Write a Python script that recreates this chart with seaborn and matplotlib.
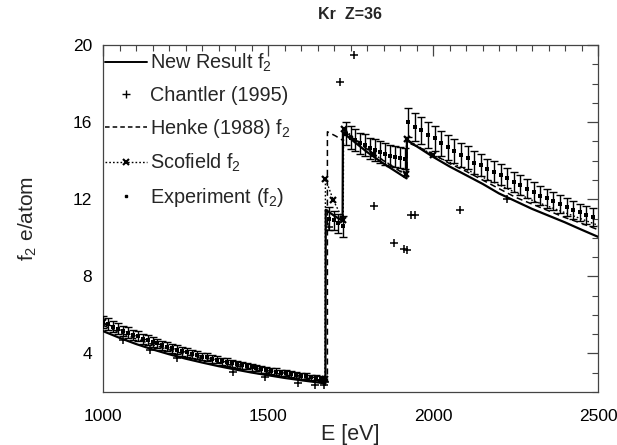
import numpy as np
import pandas as pd
import matplotlib
matplotlib.use("Agg")
import matplotlib.pyplot as plt
import seaborn as sns
from matplotlib.ticker import MultipleLocator
from matplotlib.lines import Line2D

# ---------------- data ----------------
# New Result f2 (solid line)
new_E = [1000, 1050, 1100, 1150, 1200, 1250, 1300, 1350, 1400, 1450, 1500, 1550, 1600, 1650, 1674,
         1675, 1700, 1726,
         1727, 1760, 1800, 1850, 1900, 1920,
         1921, 1950, 2000, 2050, 2100, 2150, 2200, 2250, 2300, 2350, 2400, 2450, 2500]
new_f = [5.16, 4.81, 4.49, 4.21, 3.96, 3.73, 3.53, 3.34, 3.17, 3.01, 2.87, 2.73, 2.61, 2.50, 2.44,
         11.45, 11.15, 10.87,
         15.45, 15.0, 14.45, 13.85, 13.3, 13.08,
         15.06, 14.75, 14.2, 13.7, 13.25, 12.8, 12.3, 11.9, 11.5, 11.15, 10.8, 10.42, 10.05]

# Chantler (1995) (+ markers)
chantler_E = [1062, 1142, 1225, 1395, 1491, 1592, 1642, 1670, 1672, 1686, 1718, 1761, 1822,
              1883, 1913, 1920, 1932, 1946, 2082, 2224]
chantler_f = [4.71, 4.16, 3.78, 3.03, 2.77, 2.48, 2.34, 2.34, 2.5, 10.56, 18.06, 19.48, 11.64,
              9.73, 9.4, 9.35, 11.17, 11.17, 11.46, 12.0]

# Henke (1988) f2 (dashed)
henke_E = [1000, 1050, 1100, 1150, 1200, 1250, 1300, 1350, 1400, 1450, 1500, 1550, 1600, 1650, 1680,
           1680, 1705, 1727,
           1727, 1760, 1800, 1850, 1900, 1921,
           1921, 1950, 2000, 2050, 2100, 2150, 2200, 2250, 2300, 2350, 2400, 2450, 2500]
henke_f = [5.46, 5.09, 4.76, 4.46, 4.19, 3.95, 3.73, 3.53, 3.35, 3.19, 3.03, 2.89, 2.76, 2.64, 2.58,
           15.5, 15.28, 15.05,
           15.6, 15.15, 14.6, 14.0, 13.45, 13.22,
           14.95, 14.75, 14.35, 13.85, 13.45, 13.0, 12.55, 12.1, 11.75, 11.4, 11.05, 10.75, 10.42]

# Scofield f2 (dotted with x markers)
scof_E = [1000, 1050, 1100, 1150, 1200, 1250, 1300, 1350, 1400, 1450, 1500, 1550, 1600, 1650, 1673,
          1674, 1698, 1728,
          1729, 1760, 1817, 1870, 1918,
          1920, 2000, 2100, 2200, 2300, 2400, 2500]
scof_f = [5.62, 5.24, 4.90, 4.59, 4.31, 4.07, 3.84, 3.64, 3.45, 3.28, 3.12, 2.98, 2.84, 2.73, 2.68,
          13.07, 11.95, 10.91,
          15.64, 15.2, 14.37, 13.8, 13.3,
          15.1, 14.29, 13.55, 12.75, 11.95, 11.3, 10.65]
scof_marked = [1000, 1673, 1674, 1698, 1728, 1729, 1817, 1918, 1920, 2000]

# Experiment (f2) with error bars
exp_E = [1000, 1015, 1030, 1045, 1060, 1075, 1090, 1105, 1120, 1135, 1150, 1165, 1180, 1195, 1210,
         1225, 1240, 1255, 1270, 1285, 1300, 1315, 1330, 1345, 1360, 1375, 1390, 1405, 1420, 1435,
         1450, 1465, 1480, 1495, 1510, 1525, 1540, 1555, 1570, 1585, 1600, 1615, 1630, 1645, 1660,
         1685, 1700, 1713, 1726,
         1735, 1750, 1765, 1780, 1795, 1810, 1825, 1840, 1855, 1870, 1885, 1900, 1915,
         1925, 1945, 1965, 1985, 2005, 2025, 2045, 2065, 2085, 2105, 2125, 2145, 2165, 2185, 2205,
         2225, 2245, 2265, 2285, 2305, 2325, 2345, 2365, 2385, 2405, 2425, 2445, 2465, 2485]
exp_f = [5.63, 5.52, 5.38, 5.29, 5.16, 5.08, 4.96, 4.88, 4.77, 4.70, 4.59, 4.52, 4.42, 4.36, 4.26,
         4.20, 4.11, 4.06, 3.97, 3.92, 3.84, 3.80, 3.71, 3.67, 3.59, 3.56, 3.48, 3.45, 3.38, 3.34,
         3.28, 3.25, 3.18, 3.15, 3.09, 3.06, 3.00, 2.98, 2.92, 2.90, 2.84, 2.82, 2.76, 2.75, 2.69,
         11.0, 10.9, 10.75, 10.6,
         15.4, 15.2, 15.05, 14.9, 14.8, 14.65, 14.55, 14.45, 14.35, 14.25, 14.2, 14.15, 14.1,
         16.0, 15.75, 15.58, 15.35, 15.15, 14.9, 14.7, 14.5, 14.3, 14.15, 13.9, 13.75, 13.55, 13.42,
         13.28, 13.1, 12.9, 12.75, 12.55, 12.38, 12.18, 12.05, 11.9, 11.76, 11.6, 11.45, 11.32,
         11.18, 11.08]
exp_err = [0.30, 0.30, 0.29, 0.28, 0.28, 0.27, 0.27, 0.26, 0.26, 0.25, 0.25, 0.24, 0.24, 0.23, 0.23,
           0.22, 0.22, 0.22, 0.21, 0.21, 0.20, 0.20, 0.20, 0.19, 0.19, 0.19, 0.18, 0.18, 0.18, 0.17,
           0.17, 0.17, 0.17, 0.16, 0.16, 0.16, 0.16, 0.15, 0.15, 0.15, 0.15, 0.15, 0.14, 0.14, 0.14,
           0.6, 0.5, 0.5, 0.55,
           0.6, 0.58, 0.57, 0.56, 0.56, 0.55, 0.55, 0.55, 0.55, 0.55, 0.55, 0.55, 0.55,
           0.75, 0.72, 0.7, 0.68, 0.66, 0.65, 0.64, 0.62, 0.61, 0.6, 0.58, 0.57, 0.56, 0.55,
           0.54, 0.53, 0.52, 0.51, 0.5, 0.5, 0.49, 0.48, 0.48, 0.47, 0.46, 0.46, 0.45, 0.45, 0.45]

title = "Kr  Z=36"
xlabel = "E [eV]"
ylabel = "f$_2$ e/atom"
xticks = [1000, 1500, 2000, 2500]
yticks = [4, 8, 12, 16, 20]

# ---------------- plot ----------------
sns.set_theme(style="white")
plt.rcParams['font.family'] = ['Liberation Sans', 'DejaVu Sans']
plt.rcParams['mathtext.fontset'] = 'custom'
plt.rcParams['mathtext.rm'] = 'Liberation Sans'
plt.rcParams['mathtext.it'] = 'Liberation Sans'

fig = plt.figure(figsize=(6.17, 4.45), dpi=100)
ax = fig.add_axes([103/617, 53/445, 495/617, 347/445])

df_new = pd.DataFrame({"E": new_E, "f": new_f})
df_henke = pd.DataFrame({"E": henke_E, "f": henke_f})
df_scof = pd.DataFrame({"E": scof_E, "f": scof_f})
df_ch = pd.DataFrame({"E": chantler_E, "f": chantler_f})

# experiment error bars
ax.errorbar(exp_E, exp_f, yerr=exp_err, fmt='none', ecolor='black', elinewidth=1.0,
            capsize=2.8, capthick=1.0, zorder=3)
sns.scatterplot(data=pd.DataFrame({"E": exp_E, "f": exp_f}), x="E", y="f", ax=ax,
                marker='s', s=5, color='black', linewidth=0, zorder=4)

sns.lineplot(data=df_new, x="E", y="f", ax=ax, sort=False, estimator=None,
             color='black', linewidth=1.6, zorder=5)
sns.lineplot(data=df_henke, x="E", y="f", ax=ax, sort=False, estimator=None,
             color='black', linewidth=1.1, dashes=False, linestyle=(0, (4, 2.5)), zorder=4)
sns.lineplot(data=df_scof, x="E", y="f", ax=ax, sort=False, estimator=None,
             color='black', linewidth=1.0, linestyle=(0, (1.2, 1.5)), zorder=4)
mark_idx = [scof_E.index(e) for e in scof_marked]
ax.plot([scof_E[i] for i in mark_idx], [scof_f[i] for i in mark_idx], linestyle='none',
        marker='x', markersize=5, markeredgewidth=1.6, color='black', zorder=6)
sns.scatterplot(data=df_ch, x="E", y="f", ax=ax, marker='+', s=40, color='black',
                linewidth=1.1, zorder=6)

ax.set_xlim(1000, 2500)
ax.set_ylim(2, 20)
ax.set_xticks(xticks)
ax.set_yticks(yticks)
ax.xaxis.set_minor_locator(MultipleLocator(50))
ax.yaxis.set_minor_locator(MultipleLocator(1))
ax.tick_params(which='both', direction='in', top=True, right=True, color='#444444')
ax.tick_params(which='major', length=8, width=0.9, labelsize=12.5, pad=12, labelcolor='black')
ax.tick_params(which='minor', length=4, width=0.8)
ax.tick_params(axis='y', which='major', pad=8)
for s in ax.spines.values():
    s.set_color('#444444')
    s.set_linewidth(0.9)

ax.set_xlabel(xlabel, fontsize=15.5, labelpad=0)
ax.set_ylabel(ylabel, fontsize=15, labelpad=24)
ax.set_title(title, fontsize=11.5, fontweight='bold', pad=19)

handles = [
    Line2D([], [], color='black', linewidth=1.4),
    Line2D([], [], color='black', linestyle='none', marker='+', markersize=6, markeredgewidth=1.0),
    Line2D([], [], color='black', linewidth=1.1, linestyle=(0, (3, 2))),
    Line2D([], [], color='black', linewidth=1.0, linestyle=(0, (1.2, 1.5)), marker='x',
           markersize=5, markeredgewidth=1.5),
    Line2D([], [], color='black', linestyle='none', marker='s', markersize=2),
]
labels = ["New Result f$_2$", "Chantler (1995)", "Henke (1988) f$_2$", "Scofield f$_2$",
          "Experiment (f$_2$)"]
leg = ax.legend(handles, labels, loc='upper left', bbox_to_anchor=(-0.025, 1.02), frameon=False,
                fontsize=14.3, handlelength=2.15, handletextpad=0.12, labelspacing=0.6,
                borderaxespad=0.3)

fig.savefig("out.png", dpi=100)
